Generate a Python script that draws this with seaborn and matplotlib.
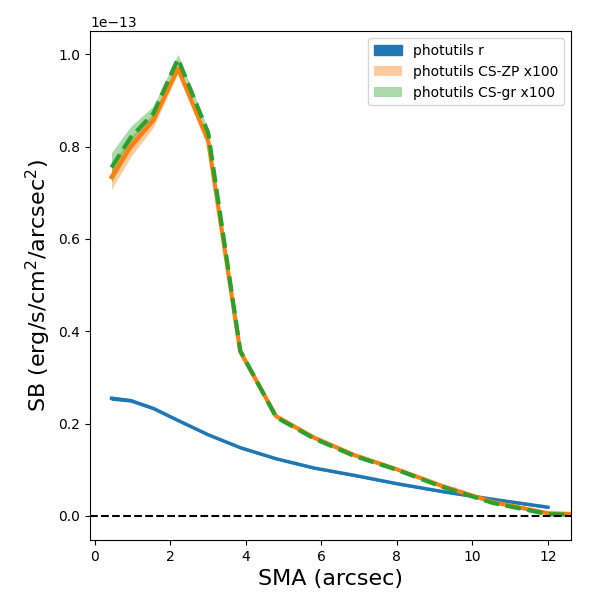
import numpy as np
import pandas as pd
import seaborn as sns
import matplotlib
matplotlib.use('Agg')
import matplotlib.pyplot as plt

# semi-major axis (arcsec)
sma = [0.44, 0.95, 1.55, 2.2, 3.0, 3.85, 4.8, 5.8, 6.87, 8.0, 9.2, 10.55, 12.0]
sma_cs = sma + [13.5]

# surface brightness, units of 1e-13 erg/s/cm2/arcsec2
sb_r = [0.255, 0.250, 0.233, 0.207, 0.176, 0.148, 0.124, 0.104, 0.088, 0.070, 0.053, 0.036, 0.019]
err_r = [0.003, 0.002, 0.0015, 0.001, 0.001, 0.001, 0.001, 0.001, 0.001, 0.001, 0.001, 0.001, 0.001]

sb_zp = [0.734, 0.800, 0.857, 0.969, 0.812, 0.356, 0.216, 0.170, 0.132, 0.101, 0.065, 0.030, 0.006, 0.002]
err_zp = [0.027, 0.022, 0.015, 0.010, 0.008, 0.004, 0.003, 0.002, 0.002, 0.002, 0.002, 0.002, 0.001, 0.001]

sb_gr = [0.755, 0.820, 0.872, 0.990, 0.830, 0.358, 0.214, 0.168, 0.130, 0.100, 0.063, 0.028, 0.004, 0.001]
err_gr = [0.032, 0.024, 0.016, 0.010, 0.008, 0.004, 0.003, 0.002, 0.002, 0.002, 0.002, 0.002, 0.001, 0.001]

scale = 1e-13
df_r = pd.DataFrame({'sma': sma, 'sb': np.array(sb_r) * scale, 'err': np.array(err_r) * scale})
df_zp = pd.DataFrame({'sma': sma_cs, 'sb': np.array(sb_zp) * scale, 'err': np.array(err_zp) * scale})
df_gr = pd.DataFrame({'sma': sma_cs, 'sb': np.array(sb_gr) * scale, 'err': np.array(err_gr) * scale})

fig, ax = plt.subplots(figsize=(6, 6), dpi=100)

# photutils r
ax.fill_between(df_r['sma'], df_r['sb'] - df_r['err'], df_r['sb'] + df_r['err'],
                color='C0', alpha=1.0, label='photutils r')
sns.lineplot(data=df_r, x='sma', y='sb', color='C0', lw=2.5, ax=ax, legend=False)

# CS-ZP
ax.fill_between(df_zp['sma'], df_zp['sb'] - df_zp['err'], df_zp['sb'] + df_zp['err'],
                color='C1', alpha=0.4, lw=0, label='photutils CS-ZP x100')
sns.lineplot(data=df_zp, x='sma', y='sb', color='C1', lw=3, ax=ax, legend=False)

# CS-gr
ax.fill_between(df_gr['sma'], df_gr['sb'] - df_gr['err'], df_gr['sb'] + df_gr['err'],
                color='C2', alpha=0.4, lw=0, label='photutils CS-gr x100')
sns.lineplot(data=df_gr, x='sma', y='sb', color='C2', lw=3, ls='--', ax=ax, legend=False)

ax.axhline(0, color='k', ls='--', lw=1.5)

ax.set_xlim(-0.13, 12.6)
ax.set_ylim(-0.052e-13, 1.05e-13)
ax.set_xlabel('SMA (arcsec)', fontsize=16)
ax.set_ylabel('SB (erg/s/cm$^2$/arcsec$^2$)', fontsize=16)
ax.legend(loc='upper right')

plt.subplots_adjust(left=0.15, right=0.951, top=0.948, bottom=0.1)
plt.savefig('out.png')
